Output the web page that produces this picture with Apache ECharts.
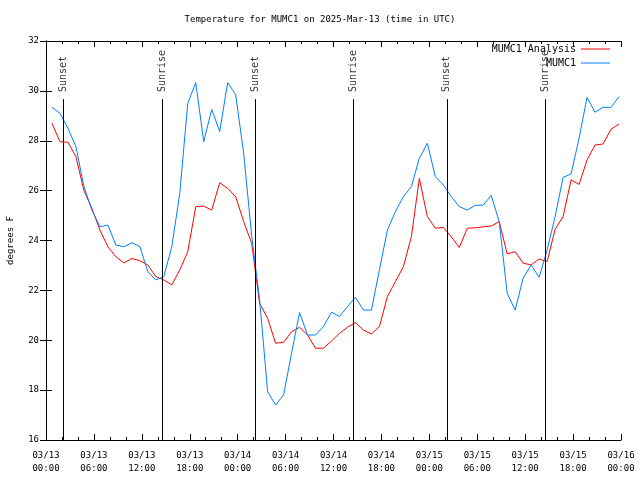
<!DOCTYPE html>
<html><head><meta charset="utf-8">
<script src="https://cdn.jsdelivr.net/npm/echarts@6/dist/echarts.min.js"></script>
<style>html,body{margin:0;padding:0;background:#fff}#c{width:640px;height:480px}</style>
</head><body><div id="c"></div>
<script>
const chartTitle = 'Temperature for MUMC1 on 2025-Mar-13 (time in UTC)';
const yName = 'degrees F';
const seriesNames = ['MUMC1 Analysis', 'MUMC1'];
const firstObs = '03/13 00:45';
// hourly values
const analysis = [28.70, 27.96, 27.94, 27.36, 26.00, 25.29, 24.42, 23.75, 23.35, 23.10,
  23.28, 23.19, 23.02, 22.55, 22.42, 22.22, 22.82, 23.55, 25.36, 25.38,
  25.22, 26.32, 26.09, 25.76, 24.76, 23.89, 21.48, 20.88, 19.88, 19.92,
  20.34, 20.52, 20.21, 19.68, 19.68, 19.97, 20.28, 20.52, 20.71, 20.41,
  20.25, 20.55, 21.75, 22.35, 22.95, 24.15, 26.49, 24.96, 24.49, 24.53,
  24.15, 23.72, 24.49, 24.51, 24.55, 24.58, 24.76, 23.46, 23.55, 23.09,
  23.02, 23.26, 23.15, 24.45, 24.96, 26.43, 26.25, 27.23, 27.83, 27.87, 28.46, 28.67];
const mumc1 = [29.34, 29.10, 28.50, 27.76, 26.16, 25.22, 24.55, 24.62, 23.82, 23.75,
  23.91, 23.76, 22.75, 22.42, 22.55, 23.75, 25.89, 29.50, 30.33, 27.96,
  29.26, 28.37, 30.33, 29.85, 27.50, 24.20, 21.62, 17.94, 17.40, 17.81,
  19.48, 21.11, 20.21, 20.21, 20.55, 21.13, 20.95, 21.35, 21.72, 21.21,
  21.21, 22.82, 24.42, 25.16, 25.76, 26.16, 27.30, 27.90, 26.56, 26.23,
  25.76, 25.36, 25.22, 25.41, 25.42, 25.81, 24.76, 21.88, 21.21, 22.50,
  23.02, 22.52, 23.62, 24.96, 26.53, 26.67, 28.10, 29.74, 29.14, 29.34, 29.34, 29.77];
const eventNames = ['Sunset', 'Sunrise', 'Sunset', 'Sunrise', 'Sunset', 'Sunrise'];
const eventTimes = ['03/13 02:10', '03/13 14:34', '03/14 02:11', '03/14 14:32', '03/15 02:12', '03/15 14:30'];
const xTickHours = 6;
const yMin = 16, yMax = 32, yStep = 2;

const FONT = 'DejaVu Sans Mono';
function toHours(s) {
  const m = s.match(/(\d+)\/(\d+) (\d+):(\d+)/);
  return (parseInt(m[2]) - 13) * 24 + parseInt(m[3]) + parseInt(m[4]) / 60;
}
function fmtHour(h) {
  const d = 13 + Math.floor(h / 24);
  const hh = Math.round(h % 24);
  return '03/' + String(d).padStart(2, '0') + '\n' + String(hh).padStart(2, '0') + ':00';
}
const t0 = toHours(firstObs);
const obsHours = analysis.map((_, i) => t0 + i);
const lineTop = 29.67;

const chart = echarts.init(document.getElementById('c'), null, {renderer: 'canvas'});
const txt = {fontFamily: FONT, fontSize: 9, color: '#000'};
const txtL = {fontFamily: FONT, fontSize: 10, color: '#000'};
const axisCommonX = {
  type: 'value', min: 0, max: 72, interval: xTickHours,
  axisLine: {show: true, lineStyle: {color: '#000', width: 1}},
  axisTick: {show: true, inside: true, length: 6, lineStyle: {color: '#000', width: 1}},
  minorTick: {show: true, splitNumber: 3, length: 3, lineStyle: {color: '#000', width: 1}},
  splitLine: {show: false}
};
const axisCommonY = {
  type: 'value', min: yMin, max: yMax, interval: yStep,
  axisLine: {show: true, lineStyle: {color: '#000', width: 1}},
  axisTick: {show: true, inside: true, length: 6, lineStyle: {color: '#000', width: 1}},
  splitLine: {show: false}
};
chart.setOption({
  animation: false,
  backgroundColor: '#fff',
  title: {text: chartTitle, left: 'center', top: 10, textStyle: Object.assign({}, txt, {fontWeight: 'normal'})},
  grid: {left: 46, right: 19, top: 41, bottom: 40, outerBoundsMode: 'none', containLabel: false},
  legend: [
    {data: [seriesNames[0]], right: 30, top: 44, align: 'right', icon: 'rect', itemWidth: 29, itemHeight: 1, padding: 0, selectedMode: false, textStyle: txtL},
    {data: [seriesNames[1]], right: 30, top: 58, align: 'right', icon: 'rect', itemWidth: 29, itemHeight: 1, padding: 0, selectedMode: false, textStyle: txtL}
  ],
  xAxis: [
    Object.assign({}, axisCommonX, {position: 'bottom', axisLabel: Object.assign({}, txt, {margin: 9, lineHeight: 13, formatter: fmtHour})}),
    Object.assign({}, axisCommonX, {position: 'top', axisLabel: {show: false}})
  ],
  yAxis: [
    Object.assign({}, axisCommonY, {position: 'left', name: yName, nameLocation: 'middle', nameGap: 31, nameRotate: 90, nameTextStyle: txt, axisLabel: Object.assign({}, txt, {margin: 7})}),
    Object.assign({}, axisCommonY, {position: 'right', axisLabel: {show: false}})
  ],
  series: [
    {
      name: 'events', type: 'scatter', z: 1, symbolSize: 0, silent: true,
      data: eventTimes.map((t, i) => ({name: eventNames[i], value: [toHours(t), lineTop]})),
      label: {show: true, formatter: '{b}', position: 'top', distance: 7, rotate: 90, align: 'left', verticalAlign: 'middle', fontFamily: FONT, fontSize: 10, color: '#000'},
      markLine: {
        silent: true, symbol: 'none', label: {show: false},
        lineStyle: {color: '#000', width: 1, type: 'solid'},
        data: eventTimes.map(t => [{coord: [toHours(t), yMin]}, {coord: [toHours(t), lineTop]}])
      }
    },
    {
      name: seriesNames[0], type: 'line', z: 3, showSymbol: false, symbol: 'none',
      color: '#ff0000', lineStyle: {width: 1, color: '#ff0000'},
      data: analysis.map((v, i) => [obsHours[i], v])
    },
    {
      name: seriesNames[1], type: 'line', z: 3, showSymbol: false, symbol: 'none',
      color: '#0080ff', lineStyle: {width: 1, color: '#0080ff'},
      data: mumc1.map((v, i) => [obsHours[i], v])
    }
  ]
});
</script>
</body></html>
